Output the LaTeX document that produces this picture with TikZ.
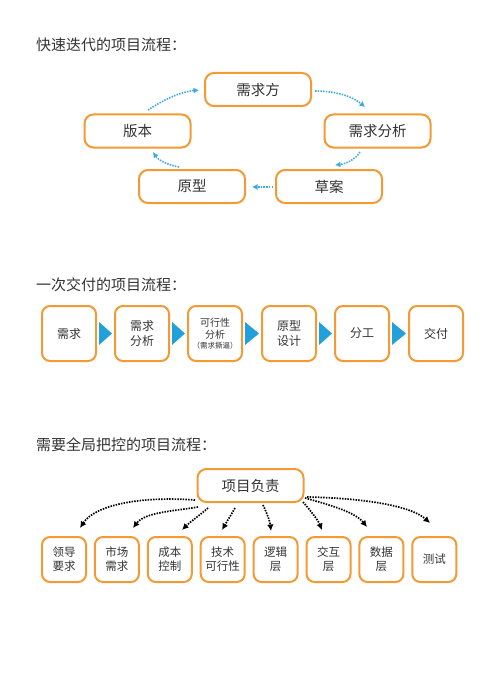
\documentclass[tikz,border=0pt]{standalone}
\usepackage{fontspec}
\newfontfamily\cjk{Noto Sans CJK SC}
\usetikzlibrary{arrows.meta,calc}
\definecolor{boxorange}{HTML}{F39A34}
\definecolor{flowblue}{HTML}{3CAAE1}
\definecolor{triblue}{HTML}{22A0DC}
\definecolor{txt}{HTML}{333333}
\begin{document}
\begin{tikzpicture}[x=1pt,y=-1pt,
  title/.style={anchor=west,font=\cjk\fontsize{15}{17}\selectfont,text=txt,inner sep=0},
  bigbox/.style={draw=boxorange,line width=2pt,rounded corners=9pt,fill=white,
    font=\cjk\fontsize{14.5}{16}\selectfont,text=txt,minimum width=106pt,minimum height=33pt,inner sep=0},
  midbox/.style={draw=boxorange,line width=2pt,rounded corners=8pt,
    font=\cjk\fontsize{12}{15}\selectfont,text=txt,minimum width=54pt,minimum height=55pt,inner sep=0,align=center},
  smallbox/.style={draw=boxorange,line width=2pt,rounded corners=8pt,
    font=\cjk\fontsize{11.5}{14}\selectfont,text=txt,minimum width=44pt,minimum height=45pt,inner sep=0,align=center},
  bluearrow/.style={flowblue,line width=1.6pt,dash pattern=on 1.5pt off 1.2pt,-{Latex[length=5.5pt,width=6pt]}},
  blackarrow/.style={black,line width=1.7pt,dash pattern=on 1.5pt off 1.2pt,-{Latex[length=6.5pt,width=6.5pt]}},
  tri/.style={fill=triblue}
]
\useasboundingbox (0,0) rectangle (500,674);

% ---------- section 1 ----------
\node[title] (t1) at (36,45) {快速迭代的项目流程：};
\node[bigbox] (xqf) at (258,89.5) {需求方};
\node[bigbox] (bb) at (137.5,131) {版本};
\node[bigbox] (xqfx) at (377.5,131) {需求分析};
\node[bigbox] (yx) at (192,186.5) {原型};
\node[bigbox] (ca) at (329,186.5) {草案};

\coordinate (a1s) at (148,110); \coordinate (a1e) at (199,90);
\coordinate (a2s) at (315,91);  \coordinate (a2e) at (365,107);
\coordinate (a3s) at (360,152); \coordinate (a3e) at (335,165);
\coordinate (a4s) at (273,187); \coordinate (a4e) at (252,187);
\coordinate (a5s) at (179,167); \coordinate (a5e) at (153,152);
\draw[bluearrow] (a1s) .. controls (165,99) and (180,92) .. (a1e);
\draw[bluearrow] (a2s) .. controls (335,91) and (352,96) .. (a2e);
\draw[bluearrow] (a3s) .. controls (355,160) and (345,164) .. (a3e);
\draw[bluearrow] (a4s) -- (a4e);
\draw[bluearrow] (a5s) .. controls (168,165) and (158,160) .. (a5e);

% ---------- section 2 ----------
\node[title] (t2) at (36,285) {一次交付的项目流程：};
\node[midbox] (m1) at (69,333.5) {需求};
\node[midbox] (m2) at (142,333.5) {需求\\分析};
\node[midbox,font=\cjk\fontsize{10}{12}\selectfont] (m3) at (215,333.5) {可行性\\分析\\[-2pt]{\fontsize{7.5}{8}\selectfont（需求撕逼）}};
\node[midbox] (m4) at (289,333.5) {原型\\设计};
\node[midbox] (m5) at (362,333.5) {分工};
\node[midbox] (m6) at (436,333.5) {交付};
\foreach \a/\b in {m1/m2,m2/m3,m3/m4,m4/m5,m5/m6}{
  \fill[tri] ($(\a.east)+(2,-11.5)$) -- ($(\a.east)+(2,11.5)$) -- ($(\b.west)+(-2,0)$) -- cycle;
}

% ---------- section 3 ----------
\node[title] (t3) at (36,445) {需要全局把控的项目流程：};
\node[bigbox] (fz) at (250.5,485.5) {项目负责};
\node[smallbox] (b1) at (64,559.5) {领导\\要求};
\node[smallbox] (b2) at (116.9,559.5) {市场\\需求};
\node[smallbox] (b3) at (169.8,559.5) {成本\\控制};
\node[smallbox] (b4) at (222.7,559.5) {技术\\可行性};
\node[smallbox] (b5) at (275.6,559.5) {逻辑\\层};
\node[smallbox] (b6) at (328.5,559.5) {交互\\层};
\node[smallbox] (b7) at (381.4,559.5) {数据\\层};
\node[smallbox] (b8) at (434.3,559.5) {测试};

\coordinate (c1s) at (195,500); \coordinate (c1e) at (80,528);
\coordinate (c2s) at (198,507); \coordinate (c2e) at (133,528);
\coordinate (c3s) at (208,508); \coordinate (c3e) at (182,530);
\coordinate (c4s) at (235,508); \coordinate (c4e) at (222,530);
\coordinate (c5s) at (263,505); \coordinate (c5e) at (271,531);
\coordinate (c6s) at (303,502); \coordinate (c6e) at (322,530);
\coordinate (c7s) at (305,498); \coordinate (c7e) at (367,527);
\coordinate (c8s) at (307,497); \coordinate (c8e) at (430,523);
\draw[blackarrow] (c1s) .. controls (140,496) and (95,505) .. (c1e);
\draw[blackarrow] (c2s) .. controls (175,511) and (145,512) .. (c2e);
\draw[blackarrow] (c3s) .. controls (200,515) and (190,522) .. (c3e);
\draw[blackarrow] (c4s) .. controls (231,515) and (226,523) .. (c4e);
\draw[blackarrow] (c5s) .. controls (267,513) and (270,522) .. (c5e);
\draw[blackarrow] (c6s) .. controls (310,510) and (318,520) .. (c6e);
\draw[blackarrow] (c7s) .. controls (330,505) and (355,512) .. (c7e);
\draw[blackarrow] (c8s) .. controls (360,498) and (410,505) .. (c8e);
\end{tikzpicture}
\end{document}
